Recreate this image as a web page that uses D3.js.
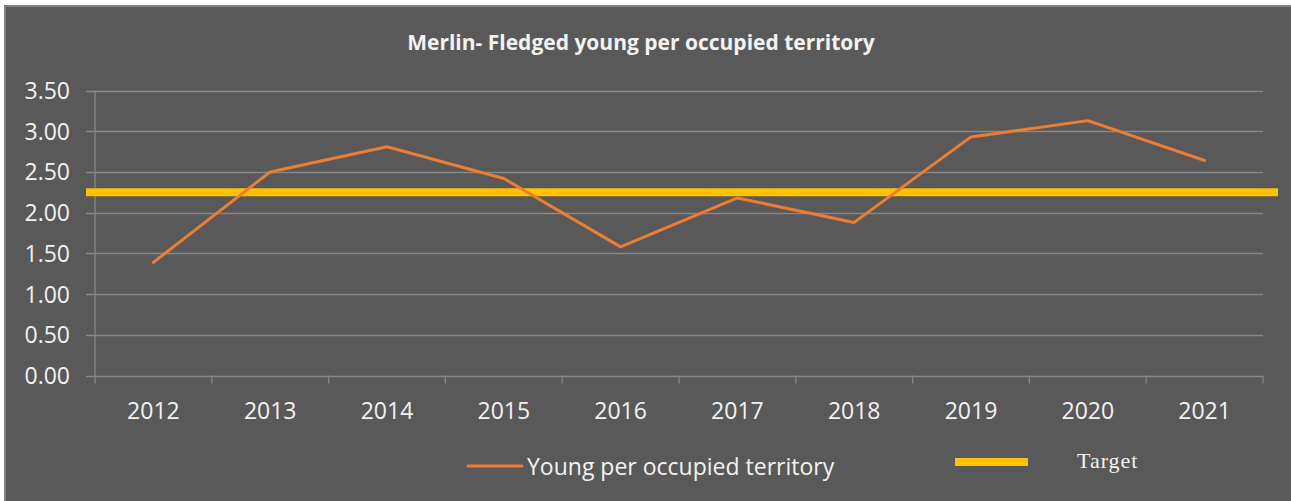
<!DOCTYPE html>
<html>
<head>
<meta charset="utf-8">
<script src="https://cdn.jsdelivr.net/npm/d3@7"></script>
<style>
  html, body { margin: 0; padding: 0; background: #ffffff; }
  svg { display: block; }
</style>
</head>
<body>
<div id="chart"></div>
<script>
// Chart data
var years = ["2012", "2013", "2014", "2015", "2016", "2017", "2018", "2019", "2020", "2021"];
var youngPerTerritory = [1.39, 2.50, 2.81, 2.42, 1.58, 2.18, 1.88, 2.93, 3.13, 2.64];
var targetValue = [2.25];
var yTicks = [0, 0.5, 1, 1.5, 2, 2.5, 3, 3.5];

var title = "Merlin- Fledged young per occupied territory";
var seriesName = "Young per occupied territory";
var targetName = "Target";

(function () {
    var width = 1291, height = 501;

    // Plot area
    var left = 95, right = 1263, top = 90.5, bottom = 375.5;

    var BG = "#595959";
    var GRID = "#888888";
    var TEXT = "#f2f2f2";
    var ORANGE = "#ED7D31";
    var GOLD = "#FFC000";

    var svg = d3.select("#chart").append("svg")
        .attr("width", width)
        .attr("height", height);

    // Panel background with light border on top / left
    svg.append("rect")
        .attr("x", 5).attr("y", 6)
        .attr("width", width + 10).attr("height", height + 10)
        .attr("fill", BG)
        .attr("stroke", "#808080")
        .attr("stroke-width", 2);

    var x = d3.scaleBand()
        .domain(years)
        .range([left, right]);

    var y = d3.scaleLinear()
        .domain([0, 3.5])
        .range([bottom, top]);

    // Horizontal gridlines (they stick out to the left as tick marks)
    svg.append("g")
        .selectAll("line")
        .data(yTicks)
        .enter().append("line")
            .attr("x1", left - 9)
            .attr("x2", right)
            .attr("y1", function (d) { return Math.round(y(d)) + 0.5; })
            .attr("y2", function (d) { return Math.round(y(d)) + 0.5; })
            .attr("stroke", GRID)
            .attr("stroke-width", 1.3);

    // Y axis line
    svg.append("line")
        .attr("x1", left).attr("x2", left)
        .attr("y1", y(3.5)).attr("y2", bottom + 8)
        .attr("stroke", GRID)
        .attr("stroke-width", 1.3);

    // X category boundary ticks
    var boundaries = years.map(function (d) { return x(d); }).concat([right]);
    svg.append("g")
        .selectAll("line")
        .data(boundaries.slice(1))
        .enter().append("line")
            .attr("x1", function (d) { return d; })
            .attr("x2", function (d) { return d; })
            .attr("y1", bottom)
            .attr("y2", bottom + 8)
            .attr("stroke", GRID)
            .attr("stroke-width", 1.3);

    // Y tick labels
    svg.append("g")
        .selectAll("text")
        .data(yTicks)
        .enter().append("text")
            .attr("x", 70)
            .attr("y", function (d) { return y(d); })
            .attr("dy", "0.37em")
            .attr("text-anchor", "end")
            .attr("fill", TEXT)
            .style("font-family", "'Open Sans', sans-serif")
            .style("font-size", "23px")
            .text(function (d) { return d3.format(".2f")(d); });

    // X tick labels
    svg.append("g")
        .selectAll("text")
        .data(years)
        .enter().append("text")
            .attr("x", function (d) { return x(d) + x.bandwidth() / 2; })
            .attr("y", 419)
            .attr("text-anchor", "middle")
            .attr("fill", TEXT)
            .style("font-family", "'Open Sans', sans-serif")
            .style("font-size", "23px")
            .text(function (d) { return d; });

    // Target line (runs past the plot area on the right)
    svg.append("g")
        .selectAll("line")
        .data(targetValue)
        .enter().append("line")
            .attr("x1", left - 9)
            .attr("x2", right + 15)
            .attr("y1", function (d) { return y(d); })
            .attr("y2", function (d) { return y(d); })
            .attr("stroke", GOLD)
            .attr("stroke-width", 8);

    // Series line
    var line = d3.line()
        .x(function (d, i) { return x(years[i]) + x.bandwidth() / 2; })
        .y(function (d) { return y(d); });

    svg.append("path")
        .datum(youngPerTerritory)
        .attr("d", line)
        .attr("fill", "none")
        .attr("stroke", ORANGE)
        .attr("stroke-width", 3)
        .attr("stroke-linejoin", "round")
        .attr("stroke-linecap", "round");

    // Title
    svg.append("text")
        .attr("x", 641)
        .attr("y", 50)
        .attr("text-anchor", "middle")
        .attr("fill", TEXT)
        .style("font-family", "'Open Sans', sans-serif")
        .style("font-weight", "bold")
        .style("font-size", "21px")
        .text(title);

    // Legend: series
    svg.append("line")
        .attr("x1", 468).attr("x2", 522)
        .attr("y1", 466).attr("y2", 466)
        .attr("stroke", ORANGE)
        .attr("stroke-width", 3)
        .attr("stroke-linecap", "round");

    svg.append("text")
        .attr("x", 527)
        .attr("y", 475)
        .attr("fill", TEXT)
        .style("font-family", "'Open Sans', sans-serif")
        .style("font-size", "23px")
        .text(seriesName);

    // Legend: target
    svg.append("line")
        .attr("x1", 955).attr("x2", 1028)
        .attr("y1", 462).attr("y2", 462)
        .attr("stroke", GOLD)
        .attr("stroke-width", 8);

    svg.append("text")
        .attr("x", 1077)
        .attr("y", 468)
        .attr("fill", TEXT)
        .style("font-family", "'Liberation Serif', serif")
        .style("font-size", "22px")
        .style("letter-spacing", "1px")
        .text(targetName);
})();
</script>
</body>
</html>
